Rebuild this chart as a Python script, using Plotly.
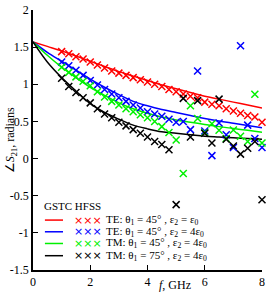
import plotly.graph_objects as go

# ---- data ----
f_gstc = [0, 0.5, 1, 1.5, 2, 2.5, 3, 3.5, 4, 4.5, 5, 5.5, 6, 6.5, 7, 7.5, 8]
te45_e1_gstc = [1.57, 1.51, 1.45, 1.38, 1.31, 1.24, 1.17, 1.11, 1.05, 0.99, 0.94, 0.89, 0.84, 0.80, 0.76, 0.72, 0.68]
te45_e4_gstc = [1.57, 1.43, 1.31, 1.19, 1.07, 0.96, 0.86, 0.77, 0.71, 0.66, 0.62, 0.58, 0.54, 0.505, 0.475, 0.445, 0.415]
tm45_e4_gstc = [1.57, 1.39, 1.23, 1.09, 0.96, 0.85, 0.75, 0.67, 0.61, 0.56, 0.52, 0.49, 0.46, 0.43, 0.405, 0.38, 0.355]
tm75_e4_gstc = [1.57, 1.30, 1.09, 0.91, 0.74, 0.62, 0.53, 0.45, 0.40, 0.36, 0.34, 0.32, 0.30, 0.29, 0.28, 0.27, 0.26]

f_hfss = [1.0, 1.25, 1.5, 1.75, 2.0, 2.25, 2.5, 2.75, 3.0, 3.25, 3.5, 3.75, 4.0, 4.25, 4.5,
          4.75, 5.0, 5.25, 5.5, 5.75, 6.0, 6.25, 6.5, 6.75, 7.0, 7.25, 7.5, 7.75, 8.0]
te45_e1_hfss = [1.44, 1.41, 1.37, 1.34, 1.30, 1.26, 1.22, 1.18, 1.15, 1.12, 1.09, 1.06, 1.03, 1.00, 0.97,
                0.93, 0.90, 0.87, 0.84, 0.82, 0.76, 0.73, 0.71, 0.67, 0.64, 0.61, 0.58, 0.56, 0.49]
te45_e4_hfss = [1.30, 1.25, 1.19, 1.12, 1.05, 0.99, 0.93, 0.87, 0.82, 0.77, 0.72, 0.68, 0.63, 0.60, 0.57,
                0.53, 0.49, 0.50, 0.39, 1.18, 0.37, 0.04, 0.48, 0.32, 0.15, 1.52, 0.45, 0.27, 0.15]
tm45_e4_hfss = [1.23, 1.16, 1.10, 1.04, 0.98, 0.90, 0.83, 0.77, 0.72, 0.67, 0.63, 0.59, 0.55, 0.50, 0.43,
                0.35, 0.25, -0.20, 0.71, 0.54, 0.35, 0.47, 0.38, 0.27, 0.385, 0.30, 0.23, 0.865, 0.21]
tm75_e4_hfss = [1.08, 0.97, 0.89, 0.82, 0.75, 0.67, 0.60, 0.55, 0.49, 0.44, 0.39, 0.34, 0.29, 0.23, 0.19,
                0.12, -0.62, 0.81, 0.29, 0.78, 0.34, 0.21, 0.80, 0.26, 0.17, 0.06, 0.14, 0.23, -0.555]

series_labels = [
    "TE: θ<sub>1</sub> = 45° , ε<sub>2</sub> = ε<sub>0</sub>",
    "TE: θ<sub>1</sub> = 45° , ε<sub>2</sub> = 4ε<sub>0</sub>",
    "TM: θ<sub>1</sub> = 45° , ε<sub>2</sub> = 4ε<sub>0</sub>",
    "TM: θ<sub>1</sub> = 75° , ε<sub>2</sub> = 4ε<sub>0</sub>",
]
series_colors = ["#ff0000", "#0000ff", "#00f000", "#000000"]

x_tickvals = [0, 2, 4, 6, 8]
x_ticktext = ["0", "2", "4", "6", "8"]
y_tickvals = [-1.5, -1, -0.5, 0, 0.5, 1, 1.5, 2]
y_ticktext = ["-1.5", "-1", "-0.5", "0", "0.5", "1", "1.5", "2"]

gstc = [te45_e1_gstc, te45_e4_gstc, tm45_e4_gstc, tm75_e4_gstc]
hfss = [te45_e1_hfss, te45_e4_hfss, tm45_e4_hfss, tm75_e4_hfss]

fig = go.Figure()
for g, c in zip(gstc, series_colors):
    fig.add_trace(go.Scatter(x=f_gstc, y=g, mode="lines", line=dict(color=c, width=1.5, shape="spline"),
                             showlegend=False, cliponaxis=False))
for h, c in zip(hfss, series_colors):
    fig.add_trace(go.Scatter(x=f_hfss, y=h, mode="markers",
                             marker=dict(symbol="x-thin", size=7, color=c, line=dict(color=c, width=1.5)),
                             showlegend=False, cliponaxis=False))

fig.update_layout(
    width=268, height=293,
    margin=dict(l=33, r=6, t=3, b=23),
    plot_bgcolor="white", paper_bgcolor="white",
    font=dict(family="Liberation Serif", size=12, color="black"),
    showlegend=False,
)
fig.update_xaxes(range=[0, 8], tickvals=x_tickvals, ticktext=x_ticktext, showgrid=False, zeroline=False,
                 showline=True, linecolor="black", linewidth=1.5, ticks="inside", ticklen=5,
                 tickcolor="black", tickwidth=1.2, tickfont=dict(size=12), ticklabeloverflow="allow")
fig.update_yaxes(range=[-1.5, 2], tickvals=y_tickvals, ticktext=y_ticktext, showgrid=False, zeroline=False,
                 showline=True, linecolor="black", linewidth=1.5, ticks="inside", ticklen=5,
                 tickcolor="black", tickwidth=1.2, tickfont=dict(size=12), ticklabeloverflow="allow")

# axis titles
fig.add_annotation(text="∠<i>S</i><sub>21</sub>, radians", textangle=-90, xref="paper", yref="paper",
                   x=-0.095, y=0.5, xanchor="center", yanchor="middle", showarrow=False,
                   font=dict(size=12))
fig.add_annotation(text="<i>f</i>, GHz", xref="paper", yref="paper", x=0.62, y=-0.058,
                   xanchor="center", yanchor="middle", showarrow=False, font=dict(size=12))

# manual legend
fig.add_annotation(text="GSTC HFSS", xref="paper", yref="paper", x=0.04, y=0.245,
                   xanchor="left", yanchor="middle", showarrow=False, font=dict(size=11))
row_y = [0.192, 0.147, 0.102, 0.055]
for lab, c, yy in zip(series_labels, series_colors, row_y):
    fig.add_shape(type="line", xref="paper", yref="paper", x0=0.052, x1=0.131, y0=yy, y1=yy,
                  line=dict(color=c, width=1.5))
    fig.add_annotation(text="×××", xref="paper", yref="paper", x=0.24, y=yy, xanchor="center",
                       yanchor="middle", showarrow=False, font=dict(size=11, color=c, family="DejaVu Sans"))
    fig.add_annotation(text=lab, xref="paper", yref="paper", x=0.31, y=yy, xanchor="left",
                       yanchor="middle", showarrow=False, font=dict(size=11))

fig.write_html("out.html", config={"displayModeBar": False},
               post_script="document.body.style.margin='0';document.body.style.overflow='hidden';")
